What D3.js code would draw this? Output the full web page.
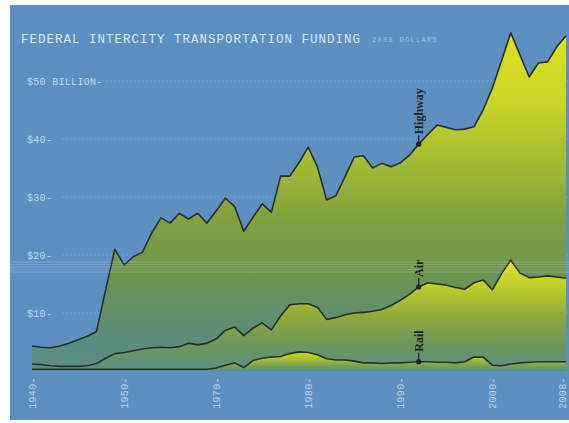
<!DOCTYPE html>
<html>
<head>
<meta charset="utf-8">
<script src="https://cdn.jsdelivr.net/npm/d3@7"></script>
<style>
  body { margin: 0; background: #fff; }
  svg { display: block; }
</style>
</head>
<body>
<svg id="chart" width="569" height="423"></svg>
<script>
var years = [1950,1951,1952,1953,1954,1955,1956,1957,1958,1959,
             1960,1961,1962,1963,1964,1965,1966,1967,1968,1969,
             1970,1971,1972,1973,1974,1975,1976,1977,1978,1979,
             1980,1981,1982,1983,1984,1985,1986,1987,1988,1989,
             1990,1991,1992,1993,1994,1995,1996,1997,1998,1999,
             2000,2001,2002,2003,2004,2005,2006,2007,2008];

// billions, 2008 dollars
var highway = [4.3,4.1,4.0,4.3,4.8,5.4,6.0,6.8,14.0,21.0,
               18.3,19.7,20.5,23.8,26.4,25.5,27.2,26.2,27.2,25.5,
               27.6,29.8,28.4,24.1,26.5,28.8,27.4,33.6,33.6,35.9,
               38.6,35.2,29.5,30.2,33.5,36.9,37.1,35.0,35.8,35.2,
               35.9,37.2,39.1,40.8,42.4,42.0,41.6,41.7,42.1,45.0,
               48.8,53.5,58.3,54.5,50.7,53.1,53.3,55.9,57.8];

var air = [1.2,1.1,0.9,0.8,0.8,0.8,0.9,1.3,2.2,3.0,
           3.2,3.5,3.8,4.0,4.1,4.0,4.2,4.8,4.5,4.8,
           5.5,7.0,7.6,6.1,7.4,8.3,7.1,9.5,11.4,11.6,
           11.6,11.0,8.9,9.2,9.7,10.0,10.1,10.3,10.6,11.3,
           12.2,13.2,14.5,15.2,15.0,14.8,14.4,14.1,15.2,15.7,
           14.0,16.8,19.1,16.9,16.1,16.2,16.4,16.2,16.0];

var rail = [0.3,0.3,0.3,0.3,0.3,0.3,0.3,0.3,0.3,0.3,
            0.3,0.3,0.3,0.3,0.3,0.3,0.3,0.3,0.3,0.3,
            0.5,1.0,1.4,0.6,1.8,2.2,2.4,2.5,3.0,3.3,
            3.2,2.8,2.1,1.9,1.9,1.7,1.4,1.4,1.3,1.4,
            1.4,1.5,1.6,1.6,1.5,1.5,1.4,1.6,2.4,2.4,
            1.0,0.9,1.2,1.4,1.5,1.6,1.6,1.6,1.6];

var yTicks = [10, 20, 30, 40, 50];
var yTickLabels = ['$10', '$20', '$30', '$40', '$50 BILLION'];
// tick labels as printed on the original
var xTickYears = [1950, 1960, 1970, 1980, 1990, 2000, 2008];
var xTickLabels = ['1940', '1950', '1970', '1980', '1990', '2000', '2008'];

var labelYear = 1992;

var svg = d3.select('#chart');
var mono = '"Liberation Mono", "DejaVu Sans Mono", monospace';

var x = d3.scaleLinear().domain([1950, 2008]).range([32, 566]);
var y = d3.scaleLinear().domain([0, 50]).range([371, 81]);

// panel
svg.append('rect')
  .attr('x', 10).attr('y', 5)
  .attr('width', 559).attr('height', 415)
  .attr('fill', '#5d8fc0');

// gradients, yellow at the top of each band down to blue-green
var defs = svg.append('defs');
function grad(id, stops){
  var top = stops[0][0];
  var g = defs.append('linearGradient')
    .attr('id', id)
    .attr('gradientUnits', 'userSpaceOnUse')
    .attr('x1', 0).attr('x2', 0)
    .attr('y1', y(top)).attr('y2', y(0));
  stops.forEach(function(s){
    g.append('stop')
      .attr('offset', (top - s[0]) / top)
      .attr('stop-color', s[1]);
  });
}
grad('gHighway', [[58,'#dfe21b'],[46,'#c9d428'],[36,'#a4bc32'],[26,'#80a03e'],[16,'#6a944f'],[7,'#5b8d76'],[0,'#5a8c8a']]);
grad('gAir', [[19,'#dce01d'],[15,'#c3d12a'],[10,'#94ac37'],[5,'#6e9856'],[0,'#5a8f86']]);
grad('gRail', [[3.4,'#d7de21'],[2,'#a6bf32'],[0.8,'#74a058'],[0,'#5b8f80']]);

// grid
svg.append('g').selectAll('line')
  .data(yTicks)
  .enter()
  .append('line')
  .attr('x1', 62).attr('x2', 569)
  .attr('y1', function(d){ return y(d); })
  .attr('y2', function(d){ return y(d); })
  .attr('stroke', '#cfe2f2')
  .attr('stroke-opacity', 0.25)
  .attr('stroke-dasharray', '2,2');

var series = [
  {name: 'Highway', values: highway, fill: 'url(#gHighway)'},
  {name: 'Air', values: air, fill: 'url(#gAir)'},
  {name: 'Rail', values: rail, fill: 'url(#gRail)'}
];

var area = d3.area()
  .x(function(d){ return x(d.year); })
  .y0(y(0))
  .y1(function(d){ return y(d.value); });

var line = d3.line()
  .x(function(d){ return x(d.year); })
  .y(function(d){ return y(d.value); });

series.forEach(function(s){
  s.points = years.map(function(yr, i){ return {year: yr, value: s.values[i]}; });
  svg.append('path')
    .datum(s.points)
    .attr('d', area)
    .attr('fill', s.fill);
});

series.forEach(function(s){
  svg.append('path')
    .datum(s.points)
    .attr('d', line)
    .attr('fill', 'none')
    .attr('stroke', '#26312b')
    .attr('stroke-width', 1.6)
    .attr('stroke-linejoin', 'round');
});

// scan streaks
[262, 264.5, 267, 269.5, 272].forEach(function(sy, i){
  svg.append('line')
    .attr('x1', 10).attr('x2', 569)
    .attr('y1', sy).attr('y2', sy)
    .attr('stroke', '#ffffff')
    .attr('stroke-opacity', i % 2 ? 0.18 : 0.28)
    .attr('stroke-width', 0.8);
});

// series labels
var li = years.indexOf(labelYear);
series.forEach(function(s){
  var lx = x(labelYear), ly = y(s.values[li]);
  svg.append('circle')
    .attr('cx', lx).attr('cy', ly).attr('r', 2.6)
    .attr('fill', '#1c2420');
  svg.append('line')
    .attr('x1', lx).attr('x2', lx)
    .attr('y1', ly).attr('y2', ly - 9)
    .attr('stroke', '#1c2420').attr('stroke-width', 1.3);
  svg.append('text')
    .attr('transform', 'translate(' + (lx + 4) + ',' + (ly - 10) + ') rotate(-90)')
    .attr('font-family', '"Liberation Serif", "DejaVu Serif", serif')
    .attr('font-weight', 'bold')
    .attr('font-size', 12)
    .attr('fill', '#1c2420')
    .text(s.name);
});

// title
svg.append('text')
  .attr('x', 21).attr('y', 43)
  .attr('font-family', mono)
  .attr('font-size', 12.5)
  .attr('letter-spacing', 1)
  .attr('fill', '#dbe9f4')
  .text('FEDERAL INTERCITY TRANSPORTATION FUNDING');
svg.append('text')
  .attr('x', 372).attr('y', 42)
  .attr('font-family', mono)
  .attr('font-size', 7)
  .attr('letter-spacing', 1.3)
  .attr('fill', '#c6dbec')
  .attr('fill-opacity', 0.7)
  .text('2008 DOLLARS');

// y axis labels
svg.append('g').selectAll('text')
  .data(yTicks)
  .enter()
  .append('text')
  .attr('x', 27)
  .attr('y', function(d){ return y(d) + 3.5; })
  .attr('font-family', mono)
  .attr('font-size', 10)
  .attr('letter-spacing', 0.3)
  .attr('fill', '#d4e4f1')
  .attr('fill-opacity', 0.85)
  .text(function(d, i){ return yTickLabels[i] + '-'; });

// x axis labels, rotated
svg.append('g').selectAll('text')
  .data(xTickYears)
  .enter()
  .append('text')
  .attr('transform', function(d){ return 'translate(' + Math.min(x(d) + 3.5, 566) + ',377) rotate(-90)'; })
  .attr('text-anchor', 'end')
  .attr('font-family', mono)
  .attr('font-size', 10)
  .attr('letter-spacing', 0.4)
  .attr('fill', '#d4e4f1')
  .attr('fill-opacity', 0.8)
  .text(function(d, i){ return xTickLabels[i] + '-'; });
</script>
</body>
</html>
